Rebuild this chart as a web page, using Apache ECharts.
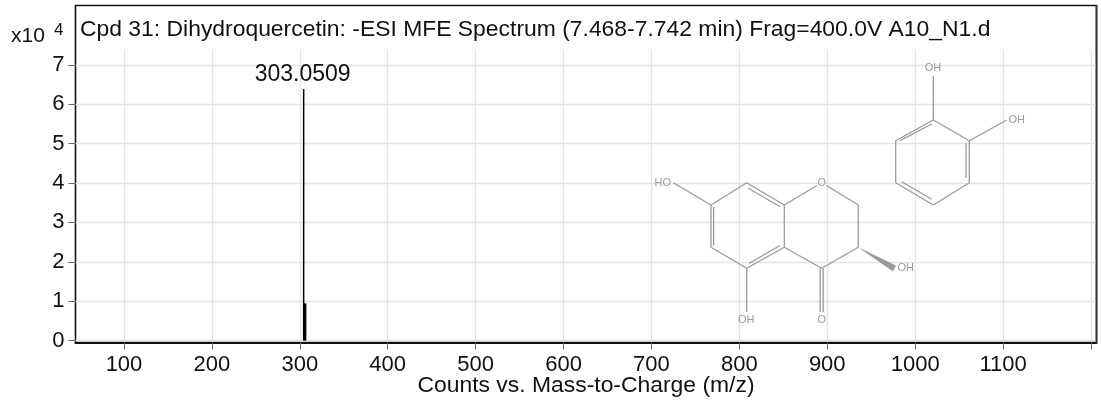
<!DOCTYPE html>
<html><head><meta charset="utf-8">
<style>html,body{margin:0;padding:0;background:#fff}#c{width:1101px;height:401px}</style>
<script src="https://cdn.jsdelivr.net/npm/echarts@6/dist/echarts.min.js"></script>
</head><body><div id="c"></div>
<script>
const titleText = 'Cpd 31: Dihydroquercetin: -ESI MFE Spectrum (7.468-7.742 min) Frag=400.0V A10_N1.d';
const xAxisTitle = 'Counts vs. Mass-to-Charge (m/z)';
const peakMz = [304.4, 305.6, 306.6];
const peakCounts = [6.39, 0.945, 0.94];
const peakLabels = ['303.0509', '', ''];
const xTicks = [100,200,300,400,500,600,700,800,900,1000,1100,1200];
const xTickLabels = [100,200,300,400,500,600,700,800,900,1000,1100];
const yTicks = [0,1,2,3,4,5,6,7];

const FONT = '"Liberation Sans", Arial, sans-serif';
const INK = '#111';
const MOL = '#9a9a9a';
const bonds = [
 [673.3,182.7,711,205],[711,205,746.7,182.7],[746.7,182.7,784.3,205],[784.3,205,817,185.5],
 [826.5,185.5,858.3,205],[858.3,205,858.3,247.3],[858.3,247.3,821.7,268.3],[821.7,268.3,784.3,247.3],
 [784.3,247.3,784.3,205],[784.3,247.3,746.7,268.3],[746.7,268.3,711,247.3],[711,247.3,711,205],
 [713.6,207,713.6,245.5],[748,188,780,206.7],[780,245.5,749,263.5],[746.7,268.3,746.7,312],
 [820.2,268.3,820.2,312],[823.2,268.3,823.2,312],
 [933.3,120,969.3,140.7],[969.3,140.7,969.3,182.7],[969.3,182.7,933.3,205],[933.3,205,895.7,182.7],
 [895.7,182.7,895.7,140.7],[895.7,140.7,933.3,120],[900,140.7,931.7,124],[966,143,966,178],
 [901.7,181.7,931.7,199.3],[933.3,120,933.3,76],[969.3,140.7,1006.7,120]
];
const atoms = [
 ['HO',662.7,182.7],['O',821.7,182.5],['OH',905.7,268.3],['OH',746.3,320],['O',821.7,320],
 ['OH',933,68.3],['OH',1016.7,119.7]
];

const graphic = [
 {type:'rect',z:0,shape:{x:75.5,y:5.5,width:1021,height:337},style:{fill:'none',stroke:'#111',lineWidth:1.6}},
 {type:'line',z:5,shape:{x1:1096.5,y1:5,x2:1096.5,y2:343},style:{stroke:'#333',lineWidth:1.6}},
 {type:'text',z:5,style:{x:11,y:26,text:'x10',fontFamily:FONT,fontSize:21,fill:INK}},
 {type:'text',z:5,style:{x:54,y:22,text:'4',fontFamily:FONT,fontSize:17,fill:INK}},
 {type:'polygon',z:3,shape:{points:[[858.3,247.3],[893,271.5],[896,265.5]]},style:{fill:MOL}}
];
bonds.forEach(b=>graphic.push({type:'line',z:3,shape:{x1:b[0],y1:b[1],x2:b[2],y2:b[3]},style:{stroke:MOL,lineWidth:1.3}}));
atoms.forEach(a=>graphic.push({type:'text',z:4,style:{x:a[1],y:a[2],text:a[0],align:'center',verticalAlign:'middle',fontFamily:FONT,fontSize:11,fill:MOL}}));

const chart = echarts.init(document.getElementById('c'),null,{renderer:'canvas'});
chart.setOption({
 animation:false,
 backgroundColor:'#fff',
 textStyle:{fontFamily:FONT},
 title:{text:titleText,left:80,top:18,padding:0,textStyle:{fontFamily:FONT,fontSize:22.9,fontWeight:'normal',color:INK}},
 grid:{left:75.5,right:4.5,top:49,bottom:60.5,containLabel:false,outerBoundsMode:'none'},
 xAxis:{type:'value',min:44.85,max:1206.3,offset:2,
  name:xAxisTitle,nameLocation:'middle',nameGap:32,nameMoveOverlap:false,nameTextStyle:{fontFamily:FONT,fontSize:22.9,color:INK},
  axisLine:{show:true,onZero:false,lineStyle:{color:'#111',width:2}},
  axisTick:{show:true,length:7,customValues:xTicks,lineStyle:{color:'#666',width:1}},
  axisLabel:{customValues:xTickLabels,formatter:v=>String(v),margin:11,fontFamily:FONT,fontSize:22,color:INK},
  splitLine:{show:true,lineStyle:{color:'#e4e4e4',width:1.4}}},
 yAxis:{type:'value',min:0,max:7.406,
  axisLine:{show:false},
  axisTick:{show:true,length:7,customValues:yTicks,lineStyle:{color:'#666',width:1}},
  axisLabel:{customValues:yTicks,formatter:v=>String(v),margin:11,fontFamily:FONT,fontSize:22,color:INK},
  splitLine:{show:true,lineStyle:{color:'#e4e4e4',width:1.4}}},
 series:[{type:'bar',barWidth:1.5,barGap:'-100%',z:6,
  itemStyle:{color:'#000'},
  label:{show:true,position:'top',distance:3,offset:[-1,0],fontFamily:FONT,fontSize:23,color:INK,formatter:p=>peakLabels[p.dataIndex]},
  data:peakMz.map((m,i)=>[m,peakCounts[i]])}],
 graphic:graphic
});
</script></body></html>
